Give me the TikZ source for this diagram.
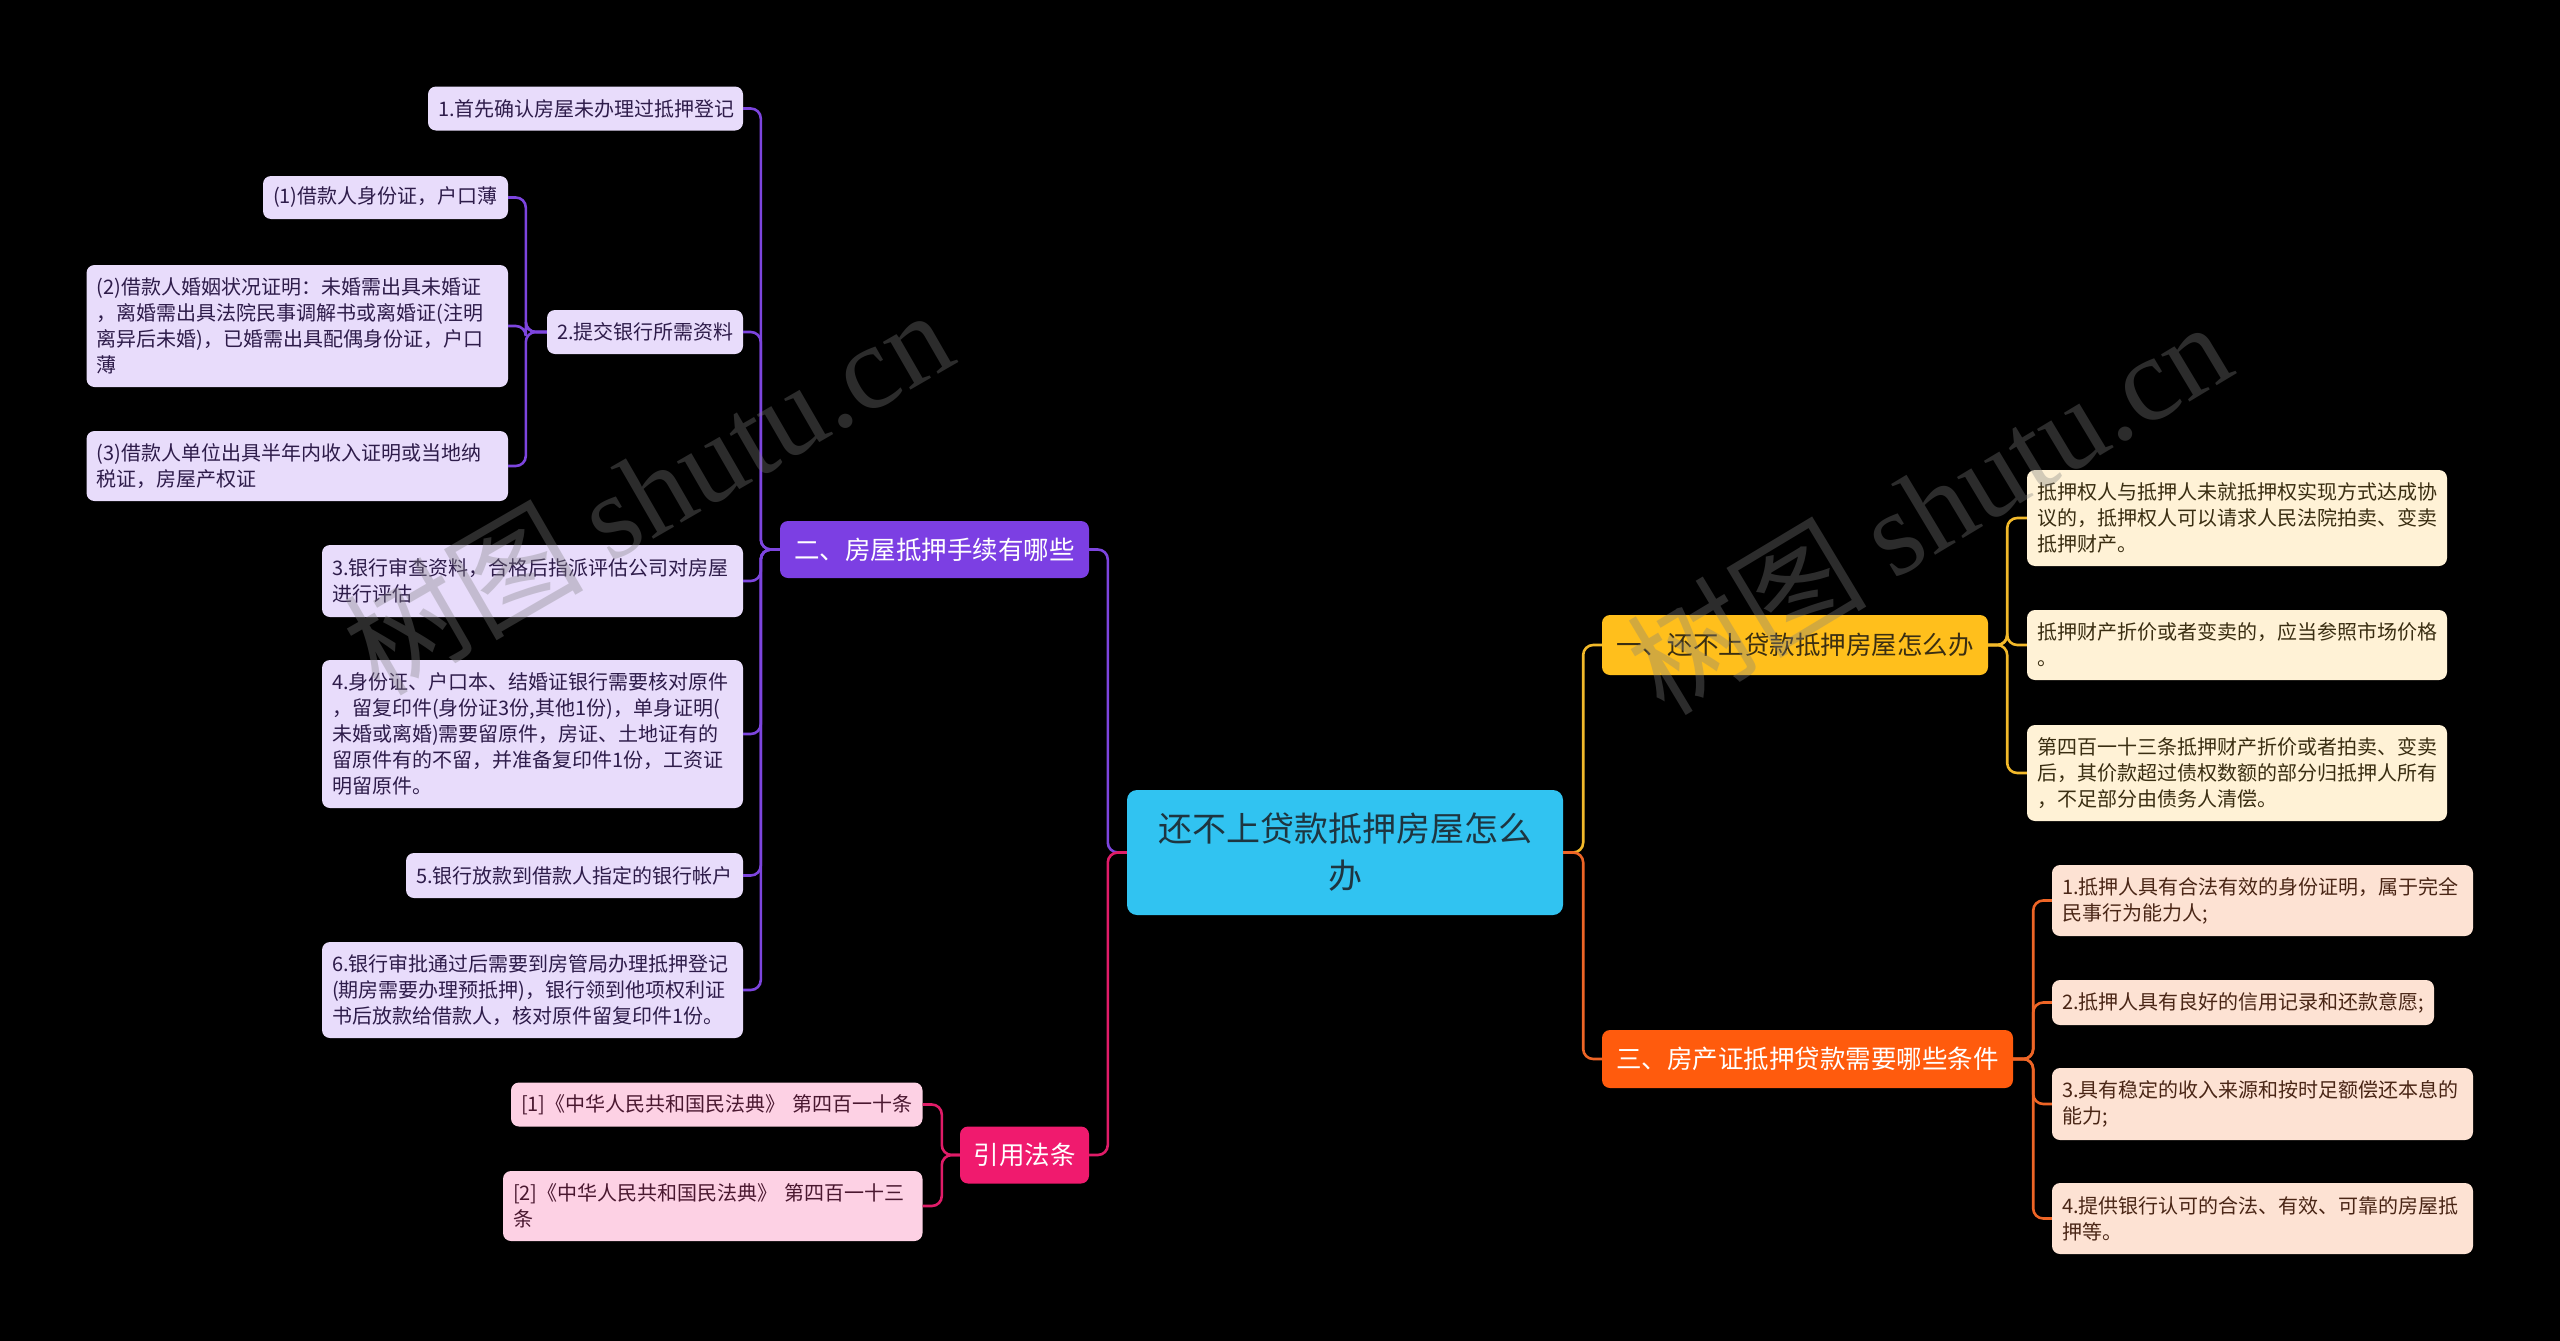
\documentclass[tikz,border=0pt]{standalone}
\usepackage{fontspec}
\setmainfont{Noto Sans CJK SC}
\newfontfamily\wmlatin{Liberation Serif}
\definecolor{cen}{HTML}{31C3F1}
\definecolor{cenT}{HTML}{1E3540}
\definecolor{yel}{HTML}{FFBF1C}
\definecolor{yelL}{HTML}{FFF2D6}
\definecolor{yelT}{HTML}{3A2E12}
\definecolor{yelC}{HTML}{F2B92A}
\definecolor{ora}{HTML}{FF5B0D}
\definecolor{oraL}{HTML}{FDE2D3}
\definecolor{oraT}{HTML}{4A2616}
\definecolor{oraC}{HTML}{EE6526}
\definecolor{pur}{HTML}{7C3FE3}
\definecolor{purL}{HTML}{E8DCFB}
\definecolor{purT}{HTML}{2E1C4A}
\definecolor{purC}{HTML}{7D45DE}
\definecolor{pnk}{HTML}{F01A6E}
\definecolor{pnkL}{HTML}{FDD1E4}
\definecolor{pnkT}{HTML}{4A1830}
\definecolor{pnkC}{HTML}{E01C68}
\tikzset{
  leaf/.style={rectangle, rounded corners=8pt, inner xsep=10pt, inner ysep=0pt, align=left,
    font=\fontsize{20}{26}\selectfont},
  lp/.style={leaf, fill=purL, text=purT},
  ly/.style={leaf, fill=yelL, text=yelT},
  lo/.style={leaf, fill=oraL, text=oraT},
  lk/.style={leaf, fill=pnkL, text=pnkT},
  branch/.style={rectangle, rounded corners=8pt, inner sep=0pt, align=center,
    font=\fontsize{25.5}{30}\selectfont},
  con/.style={line width=2.6pt, rounded corners=10pt},
  wm/.style={text=gray, opacity=0.35, font=\fontsize{120}{120}\selectfont, inner sep=0pt}
}
\begin{document}
\begin{tikzpicture}[x=1pt, y=-1pt]
\fill[black] (0,0) rectangle (2560,1341);
\useasboundingbox (0,0) rectangle (2560,1341);

% center
\node[rectangle, rounded corners=10pt, fill=cen, text=cenT, align=center,
  minimum width=436pt, minimum height=125pt, inner sep=0pt,
  font=\fontsize{34}{47}\selectfont] (c) at (1345,852.5) {还不上贷款抵押房屋怎么\\办};

% branches
\node[branch, fill=yel, text=yelT, minimum width=386pt, minimum height=60pt] (b1) at (1795,645) {一、还不上贷款抵押房屋怎么办};
\node[branch, fill=ora, text=white, minimum width=411pt, minimum height=58pt] (b3) at (1807.5,1059) {三、房产证抵押贷款需要哪些条件};
\node[branch, fill=pur, text=white, minimum width=309pt, minimum height=57pt] (b2) at (934.5,549.5) {二、房屋抵押手续有哪些};
\node[branch, fill=pnk, text=white, minimum width=129pt, minimum height=57pt] (bq) at (1024.5,1155) {引用法条};

% yellow leaves
\node[ly, text width=400pt, minimum height=96pt] (y1) at (2237,518) {抵押权人与抵押人未就抵押权实现方式达成协\\议的，抵押权人可以请求人民法院拍卖、变卖\\抵押财产。};
\node[ly, text width=400pt, minimum height=70pt] (y2) at (2237,645) {抵押财产折价或者变卖的，应当参照市场价格\\。};
\node[ly, text width=400pt, minimum height=96pt] (y3) at (2237,773) {第四百一十三条抵押财产折价或者拍卖、变卖\\后，其价款超过债权数额的部分归抵押人所有\\，不足部分由债务人清偿。};

% orange leaves
\node[lo, text width=401pt, minimum height=71pt] (o1) at (2262.5,900.5) {1.抵押人具有合法有效的身份证明，属于完全\\民事行为能力人;};
\node[lo, text width=362pt, minimum height=45pt] (o2) at (2243,1002.5) {2.抵押人具有良好的信用记录和还款意愿;};
\node[lo, text width=401pt, minimum height=72pt] (o3) at (2262.5,1104) {3.具有稳定的收入来源和按时足额偿还本息的\\能力;};
\node[lo, text width=401pt, minimum height=71pt] (o4) at (2262.5,1218.5) {4.提供银行认可的合法、有效、可靠的房屋抵\\押等。};

% purple leaves
\node[lp, text width=295pt, minimum height=44pt] (p1) at (585.5,108.5) {1.首先确认房屋未办理过抵押登记};
\node[lp, text width=176pt, minimum height=44pt] (p2) at (645,332) {2.提交银行所需资料};
\node[lp, text width=401pt, minimum height=72pt] (p3) at (532.5,581) {3.银行审查资料，合格后指派评估公司对房屋\\进行评估};
\node[lp, text width=401pt, minimum height=148pt] (p4) at (532.5,734) {4.身份证、户口本、结婚证银行需要核对原件\\，留复印件(身份证3份,其他1份)，单身证明(\\未婚或离婚)需要留原件，房证、土地证有的\\留原件有的不留，并准备复印件1份，工资证\\明留原件。};
\node[lp, text width=317pt, minimum height=45pt] (p5) at (574.5,875.5) {5.银行放款到借款人指定的银行帐户};
\node[lp, text width=401pt, minimum height=96pt] (p6) at (532.5,990) {6.银行审批通过后需要到房管局办理抵押登记\\(期房需要办理预抵押)，银行领到他项权利证\\书后放款给借款人，核对原件留复印件1份。};
\node[lp, text width=225pt, minimum height=43pt] (s1) at (385.5,197.5) {(1)借款人身份证，户口薄};
\node[lp, text width=401.5pt, minimum height=122pt] (s2) at (297.25,326) {(2)借款人婚姻状况证明：未婚需出具未婚证\\，离婚需出具法院民事调解书或离婚证(注明\\离异后未婚)，已婚需出具配偶身份证，户口\\薄};
\node[lp, text width=401.5pt, minimum height=70pt] (s3) at (297.25,466) {(3)借款人单位出具半年内收入证明或当地纳\\税证，房屋产权证};

% pink leaves
\node[lk, text width=391.5pt, minimum height=44pt] (q1) at (716.75,1104.5) {[1]《中华人民共和国民法典》~第四百一十条};
\node[lk, text width=399.5pt, minimum height=70pt] (q2) at (712.75,1206) {[2]《中华人民共和国民法典》~第四百一十三\\条};

% connectors: center to branches
\draw[con, draw=yelC] (c.east) -- ++(20,0) |- (b1.west);
\draw[con, draw=oraC] (c.east) -- ++(20,0) |- (b3.west);
\draw[con, draw=purC] (c.west) -- ++(-19,0) |- (b2.east);
\draw[con, draw=pnkC] (c.west) -- ++(-19,0) |- (bq.east);

% branch to leaves
\foreach \n in {y1,y2,y3} \draw[con, draw=yelC] (b1.east) -- ++(19,0) |- (\n.west);
\foreach \n in {o1,o2,o3,o4} \draw[con, draw=oraC] (b3.east) -- ++(20,0) |- (\n.west);
\foreach \n in {p1,p2,p3,p4,p5,p6} \draw[con, draw=purC] (b2.west) -- ++(-19,0) |- (\n.east);
\foreach \n in {s1,s2,s3} \draw[con, draw=purC] (p2.west) -- ++(-21,0) |- (\n.east);
\foreach \n in {q1,q2} \draw[con, draw=pnkC] (bq.west) -- ++(-18,0) |- (\n.east);

% watermarks
\node[wm, rotate=30] (w1) at (647,490) {树图 {\wmlatin shutu.cn}};
\node[wm, rotate=31] (w2) at (1928,506) {树图 {\wmlatin shutu.cn}};
\end{tikzpicture}
\end{document}
